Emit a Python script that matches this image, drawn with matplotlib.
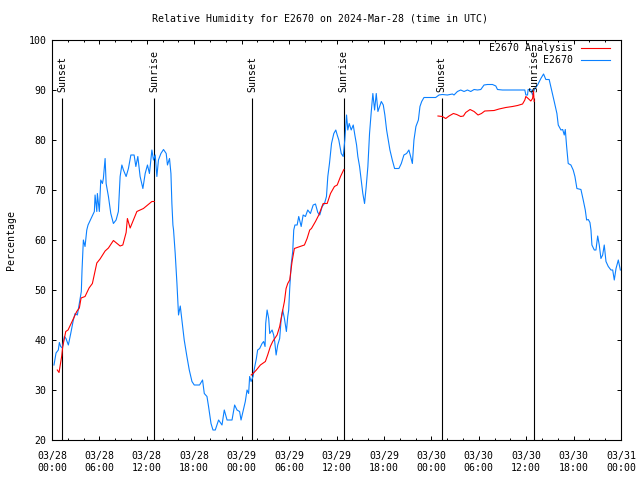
import matplotlib
matplotlib.use("Agg")
import matplotlib.pyplot as plt

# hours since 2024-03-28 00:00 UTC
obs_t = [0.25, 0.51, 0.80, 0.93, 1.10, 1.31, 1.56, 1.77, 2.07, 2.37, 2.70, 2.92, 3.21, 3.46, 3.71, 3.80, 3.97, 4.18,
         4.40, 4.56, 5.36, 5.45, 5.67, 5.74, 5.99, 6.17, 6.38, 6.50, 6.72, 6.85, 7.14, 7.44, 7.77, 8.11, 8.40, 8.62,
         8.84, 9.04, 9.38, 9.67, 9.98, 10.39, 10.61, 10.86, 11.15, 11.50, 11.79, 12.08, 12.33, 12.64, 12.84, 13.06,
         13.27, 13.47, 13.78, 14.11, 14.45, 14.61, 14.87, 15.05, 15.17, 15.30, 15.38, 15.59, 15.81, 16.01, 16.23,
         16.44, 16.73, 17.07, 17.37, 17.71, 18.00, 18.34, 18.67, 19.05, 19.27, 19.61, 19.81, 20.12, 20.37, 20.66,
         21.08, 21.51, 21.80, 22.15, 22.78, 23.11, 23.41, 23.74, 23.92, 24.17, 24.46, 24.68, 24.88, 25.01, 25.19,
         25.44, 25.61, 25.86, 26.02, 26.28, 26.58, 26.78, 26.96, 27.04, 27.22, 27.42, 27.55, 27.85, 28.05, 28.18,
         28.36, 28.56, 28.81, 28.99, 29.19, 29.41, 29.66, 29.83, 29.95, 30.08, 30.26, 30.46, 30.59, 30.74, 31.02,
         31.22, 31.53, 31.78, 32.07, 32.36, 32.70, 33.05, 33.34, 33.63, 33.88, 34.19, 34.48, 34.73, 34.90, 35.11,
         35.37, 35.66, 35.91, 36.09, 36.29, 36.60, 36.85, 37.05, 37.27, 37.43, 37.61, 37.86, 38.12, 38.32, 38.54,
         38.70, 38.92, 39.13, 39.33, 39.55, 39.76, 39.97, 40.18, 40.40, 40.60, 40.82, 41.03, 41.24, 41.45, 41.67,
         41.92, 42.12, 42.34, 42.55, 42.76, 43.06, 43.35, 43.90, 44.20, 44.53, 44.87, 45.16, 45.38, 45.60, 45.80,
         46.05, 46.36, 46.56, 46.78, 47.07, 48.55, 48.97, 49.40, 50.03, 50.67, 50.87, 51.30, 51.72, 52.14, 52.57,
         52.99, 53.41, 53.84, 54.26, 54.67, 55.10, 55.74, 56.16, 56.37, 57.00, 59.83, 59.96, 60.17, 60.25, 60.59,
         60.81, 61.01, 61.44, 61.86, 62.20, 62.49, 62.91, 63.22, 63.55, 63.89, 64.06, 64.40, 64.62, 64.82, 64.95,
         65.12, 65.32, 65.66, 65.95, 66.17, 66.42, 66.93, 67.22, 67.48, 67.65, 67.86, 68.07, 68.20, 68.32, 68.62,
         68.83, 69.05, 69.25, 69.46, 69.68, 69.88, 70.10, 70.39, 70.73, 70.95, 71.15, 71.37, 71.66, 71.92]
obs_v = [35, 37.4, 38, 39.5, 38.7, 38.4, 40.7, 40.3, 39, 41.3, 44, 45.3, 45, 47.3, 49.7, 54, 60, 58.7,
         62, 63, 65.7, 69, 65.7, 69.3, 65.7, 72, 71.3, 72.3, 76.3, 71.3, 68.7, 65.3, 63.3, 64, 65.7, 72.7,
         75, 74, 72.7, 74.3, 77, 77, 74.7, 76.7, 72.7, 70.3, 73.3, 75, 73.3, 78, 76, 77,
         72.7, 76, 77.3, 78.1, 77.3, 75, 76.3, 73.3, 67.3, 63, 62, 57.3, 51.3, 45, 46.8,
         44, 40, 36.7, 34, 31.7, 31, 31, 31, 32, 29.3, 28.7, 26.7, 23.3, 22, 22,
         24, 23, 26, 24, 24, 27, 26, 25.7, 24, 25.7, 27.7, 30, 29.3, 32.7, 31.7,
         32.7, 34.3, 36.3, 38, 38.3, 39.3, 39.7, 38.7, 43.3, 46, 44.3, 41.3, 42, 41, 39.7,
         37, 39, 40.3, 44, 46, 44.3, 41.7, 44.7, 46, 50.3, 55, 57.7, 62, 63, 63,
         64.7, 62.7, 65, 64.7, 66, 65.3, 67, 67.2, 65.5, 65, 66.7, 67.3, 68.7, 72.7, 75.3,
         79.3, 81.3, 82, 81, 80, 77.3, 76.7, 80, 85, 82, 83.3, 82, 83, 81, 79,
         76.7, 74.7, 72, 69.3, 67.3, 70.7, 74.7, 81.3, 85.7, 89.3, 86, 89.3, 85.7, 86.7, 87.7,
         87, 85, 82, 80, 78, 76, 74.3, 74.3, 75.3, 77, 77.3, 78, 76.7, 75.3, 80,
         82.7, 84, 86.7, 87.7, 88.5, 88.5, 89, 89.1, 89, 89.2, 89, 89.7, 90, 89.7, 90,
         89.7, 90.1, 90, 90.1, 91, 91.1, 91.1, 90.8, 90.1, 90, 90, 89, 89, 90.1, 90.1,
         89, 90, 91, 92.3, 93.2, 92.1, 92.1, 90, 87.7, 85.3, 83, 82, 82.1, 81, 82.1,
         78.7, 75.3, 75, 74, 72.7, 70.3, 70.1, 68, 66, 64, 64.1, 63.5, 62, 59, 58,
         58, 60.8, 59, 56.3, 57, 59, 55.7, 54.7, 54, 54, 52, 54.3, 56, 54]

ana1_t = [0.67, 0.89, 1.23, 1.36, 1.74, 2.03, 2.54, 3.13, 3.46, 3.68, 4.18, 4.69, 5.11, 5.67, 6.08, 6.72, 7.14,
          7.77, 8.62, 8.96, 9.38, 9.54, 9.89, 10.74, 11.57, 12.64, 12.93]
ana1_v = [34, 33.5, 36.8, 38.7, 41.7, 42, 43.7, 45.7, 46.4, 48.4, 48.7, 50.4, 51.3, 55.4, 56.2, 57.8, 58.4,
          59.9, 58.8, 59, 61.5, 64.3, 62.4, 65.7, 66.3, 67.7, 67.7]
ana2_t = [25.2, 25.44, 25.86, 26.37, 27.0, 27.29, 27.63, 27.93, 28.48, 28.81, 29.11, 29.41, 29.62, 29.83, 30.08,
          30.38, 30.67, 31.02, 31.94, 32.28, 32.61, 32.83, 33.34, 33.76, 34.31, 34.82, 35.24, 35.74, 36.09, 36.51,
          36.93]
ana2_v = [33.0, 33.3, 34, 35, 35.7, 37, 38.7, 39.7, 41, 42.7, 45.3, 47.7, 50.3, 51.3, 52, 55.7, 58.3, 58.5, 59,
          60.3, 62, 62.3, 63.7, 65, 67.3, 67.3, 69.3, 70.7, 71, 72.7, 74.1]
ana3_t = [48.84, 49.40, 49.82, 50.24, 50.79, 51.21, 51.72, 52.06, 52.35, 52.90, 53.41, 53.91, 54.34, 54.76, 55.94,
          56.57, 57.42, 58.27, 58.91, 59.54, 59.83, 59.96, 60.25, 60.59, 60.81, 60.93, 61.01]
ana3_v = [84.8, 84.7, 84.3, 84.8, 85.3, 85.1, 84.7, 84.8, 85.5, 86.1, 85.7, 85, 85.3, 85.8, 85.9, 86.2, 86.5,
          86.7, 86.9, 87.2, 88, 88.7, 88.3, 87.8, 88.3, 89.8, 87.7]

sun_t = [1.27, 12.93, 25.35, 36.9, 49.3, 61.0]
sun_lbl = ["Sunset", "Sunrise", "Sunset", "Sunrise", "Sunset", "Sunrise"]

xtick_pos = [0, 6, 12, 18, 24, 30, 36, 42, 48, 54, 60, 66, 72]
xtick_lbl = ["03/28\n00:00", "03/28\n06:00", "03/28\n12:00", "03/28\n18:00",
             "03/29\n00:00", "03/29\n06:00", "03/29\n12:00", "03/29\n18:00",
             "03/30\n00:00", "03/30\n06:00", "03/30\n12:00", "03/30\n18:00",
             "03/31\n00:00"]
ytick_pos = [20, 30, 40, 50, 60, 70, 80, 90, 100]

plt.rcParams['font.family'] = ['DejaVu Sans Mono']
FS = 7.15
LW = 0.8
RED = '#ff0000'
BLUE = '#0a80ff'

fig = plt.figure(figsize=(6.4, 4.8), dpi=100)
ax = fig.add_axes([52/640, 40/480, 569/640, 400/480])

for t, lbl in zip(sun_t, sun_lbl):
    ax.vlines(t, 20, 88.3, color='black', lw=LW, zorder=1)
    ax.text(t, 89.5, lbl, rotation=90, ha='center', va='bottom', fontsize=FS, zorder=4)

ax.plot(ana1_t, ana1_v, color=RED, lw=LW, label='E2670 Analysis', zorder=3)
ax.plot(ana2_t, ana2_v, color=RED, lw=LW, zorder=3)
ax.plot(ana3_t, ana3_v, color=RED, lw=LW, zorder=3)
ax.plot(obs_t, obs_v, color=BLUE, lw=LW, label='E2670', zorder=2)

ax.set_xlim(0, 72)
ax.set_ylim(20, 100)
ax.set_xticks(xtick_pos)
ax.set_xticklabels(xtick_lbl, fontsize=FS, linespacing=1.2)
ax.set_xticks(list(range(0, 73, 2)), minor=True)
ax.set_yticks(ytick_pos)
ax.set_yticklabels([str(v) for v in ytick_pos], fontsize=FS)
ax.tick_params(which='major', direction='in', top=True, right=True, length=3, width=0.7)
ax.tick_params(axis='x', which='major', pad=8)
ax.tick_params(axis='y', which='major', pad=4)
ax.tick_params(which='minor', direction='in', top=True, right=False, length=1.5, width=0.7)
ax.tick_params(axis='y', which='minor', left=False, right=False)
for s in ax.spines.values():
    s.set_linewidth(0.8)

ax.set_ylabel('Percentage', fontsize=FS, labelpad=9)
fig.text(0.5, 1 - 19/480, 'Relative Humidity for E2670 on 2024-Mar-28 (time in UTC)',
         ha='center', va='center', fontsize=FS)

leg = ax.legend(loc='upper right', bbox_to_anchor=(1 - 11/569, 1 - 3/400), frameon=False,
                markerfirst=False, fontsize=FS, handlelength=2.9, handletextpad=0.8,
                labelspacing=0.25, borderpad=0, borderaxespad=0)

fig.savefig('out.png', dpi=100)
